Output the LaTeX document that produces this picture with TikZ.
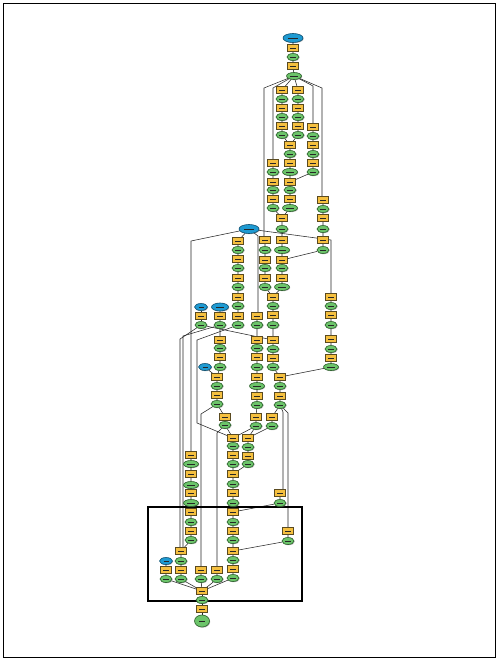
\documentclass[tikz,border=0pt]{standalone}
\usetikzlibrary{shapes.geometric,shadows}
\definecolor{yfill}{HTML}{F5C040}
\definecolor{ydraw}{HTML}{5A4A20}
\definecolor{gfill}{HTML}{6CC46A}
\definecolor{gdraw}{HTML}{2A5E2A}
\definecolor{bfill}{HTML}{1E9AD2}
\definecolor{bdraw}{HTML}{0E4F70}
\pgfdeclarelayer{back}
\pgfdeclarelayer{bg}
\pgfsetlayers{back,bg,main}
\tikzset{
  lbl/.style={path picture={\draw[line width=0.9pt,black!85]
     ([xshift=-#1]path picture bounding box.center) -- ([xshift=#1]path picture bounding box.center);}},
  base/.style={inner sep=0pt,line width=0.6pt,
     drop shadow={shadow xshift=0.7pt,shadow yshift=-0.7pt,opacity=0.45,fill=black!60}},
  yb/.style={base,rectangle,draw=ydraw,fill=yfill,minimum width=11pt,minimum height=7pt,lbl=3pt},
  gn/.style={base,ellipse,draw=gdraw,fill=gfill,minimum width=12pt,minimum height=7pt,lbl=2.8pt},
  gw/.style={gn,minimum width=15pt,lbl=4pt},
  bsm/.style={base,ellipse,draw=bdraw,fill=bfill,minimum width=13pt,minimum height=7pt,lbl=2.5pt},
  bmd/.style={bsm,minimum width=17pt,minimum height=8pt,lbl=4pt},
  bbig/.style={bsm,minimum width=20pt,minimum height=9pt,lbl=5pt},
  gbig/.style={gn,minimum width=15pt,minimum height=12pt,lbl=3pt},
  conn/.style={line width=0.55pt,black!85},
}
\begin{document}
\begin{tikzpicture}[x=1pt,y=-1pt]
\useasboundingbox (0,0) rectangle (498,660);
\begin{pgfonlayer}{back}
\fill[white] (0,0) rectangle (498,660);
\end{pgfonlayer}
\draw[line width=0.6pt] (3,3) rectangle (495,657);
\draw[line width=1.2pt] (148,507) rectangle (302,601);

% ---------- top cluster ----------
\node[bbig] (B1) at (293,38) {};
\node[yb] (Y1) at (293,48) {};
\node[gn] (G1) at (293,57) {};
\node[yb] (Y2) at (293,66) {};
\node[gw] (G2) at (294,76) {};
% column A
\node[yb] (YA1) at (282,90) {};
\node[gn] (GA1) at (282,99) {};
\node[yb] (YA2) at (282,108) {};
\node[gn] (GA2) at (282,117) {};
\node[yb] (YA3) at (282,126) {};
\node[gn] (GA3) at (282,135) {};
% column B
\node[yb] (YB1) at (298,90) {};
\node[gn] (GB1) at (298,99) {};
\node[yb] (YB2) at (298,108) {};
\node[gn] (GB2) at (298,117) {};
\node[yb] (YB3) at (298,126) {};
\node[gn] (GB3) at (298,135) {};
% column C
\node[yb] (YC1) at (313,127) {};
\node[gn] (GC1) at (313,136) {};
\node[yb] (YC2) at (313,145) {};
\node[gn] (GC2) at (313,154) {};
\node[yb] (YC3) at (313,163) {};
\node[gn] (GC3) at (313,172) {};
% column M
\node[yb] (YM1) at (290,145) {};
\node[gn] (GM1) at (290,154) {};
\node[yb] (YM2) at (290,163) {};
\node[gw] (GM2) at (290,172) {};
\node[yb] (YM3) at (290,182) {};
\node[gn] (GM3) at (290,190) {};
\node[yb] (YM4) at (290,199) {};
\node[gw] (GM4) at (290,208) {};
% column D
\node[yb] (YD1) at (273,163) {};
\node[gn] (GD1) at (273,172) {};
\node[yb] (YD2) at (273,182) {};
\node[gn] (GD2) at (273,190) {};
\node[yb] (YD3) at (273,199) {};
\node[gn] (GD3) at (273,208) {};
% column E
\node[yb] (YE1) at (282,218) {};
\node[gn] (GE1) at (282,229) {};
\node[yb] (YE2) at (282,240) {};
\node[gw] (GE2) at (282,250) {};
\node[yb] (YE3) at (282,260) {};
\node[gn] (GE3) at (282,268) {};
\node[yb] (YE4) at (282,278) {};
\node[gw] (GE4) at (282,287) {};
% column F
\node[yb] (YF1) at (323,200) {};
\node[gn] (GF1) at (323,209) {};
\node[yb] (YF2) at (323,218) {};
\node[gn] (GF2) at (323,229) {};
\node[yb] (YF3) at (323,240) {};
\node[gn] (GF3) at (323,250) {};
% column H
\node[yb] (YH1) at (265,240) {};
\node[gn] (GH1) at (265,250) {};
\node[yb] (YH2) at (265,260) {};
\node[gn] (GH2) at (265,268) {};
\node[yb] (YH3) at (265,278) {};
\node[gn] (GH3) at (265,287) {};
% column J
\node[yb] (YJ1) at (273,297) {};
\node[gn] (GJ1) at (273,306) {};
\node[yb] (YJ2) at (273,315) {};
\node[gn] (GJ2) at (273,325) {};

% ---------- middle cluster ----------
\node[bbig] (B2) at (249,229) {};
\node[yb] (YK1) at (238,241) {};
\node[gn] (GK1) at (238,250) {};
\node[yb] (YK2) at (238,259) {};
\node[gn] (GK2) at (238,268) {};
\node[yb] (YK3) at (238,278) {};
\node[gn] (GK3) at (238,287) {};
\node[yb] (YK4) at (238,297) {};
\node[gn] (GK4) at (238,306) {};
\node[yb] (YK5) at (238,316) {};
\node[gn] (GK5) at (238,325) {};
% column L
\node[yb] (YL1) at (257,316) {};
\node[gn] (GL1) at (257,325) {};
\node[yb] (YL2) at (257,340) {};
\node[gn] (GL2) at (257,348) {};
\node[yb] (YL3) at (257,357) {};
\node[gn] (GL3) at (257,367) {};
\node[yb] (YL4) at (257,377) {};
\node[gw] (GL4) at (257,386) {};
\node[yb] (YL5) at (257,396) {};
\node[gn] (GL5) at (257,405) {};
\node[yb] (YL6) at (256,417) {};
\node[gn] (GL6) at (256,426) {};
% column N
\node[yb] (YN1) at (331,297) {};
\node[gn] (GN1) at (331,306) {};
\node[yb] (YN2) at (331,315) {};
\node[gn] (GN2) at (331,325) {};
\node[yb] (YN3) at (331,339) {};
\node[gn] (GN3) at (331,349) {};
\node[yb] (YN4) at (331,358) {};
\node[gw] (GN4) at (331,367) {};
% column P / R / S
\node[yb] (YP1) at (273,340) {};
\node[gn] (GP1) at (273,349) {};
\node[yb] (YP2) at (273,358) {};
\node[gn] (GP2) at (273,367) {};
\node[yb] (YR1) at (280,377) {};
\node[gn] (GR1) at (280,386) {};
\node[yb] (YR2) at (280,396) {};
\node[gn] (GR2) at (280,405) {};
\node[yb] (YS1) at (272,417) {};
\node[gn] (GS1) at (272,426) {};
% columns T / U / V / W
\node[bsm] (B3) at (201,307) {};
\node[yb] (YT1) at (201,316) {};
\node[gn] (GT1) at (201,325) {};
\node[bmd] (B4) at (220,307) {};
\node[yb] (YU1) at (220,316) {};
\node[gn] (GU1) at (220,325) {};
\node[yb] (YU2) at (220,340) {};
\node[gn] (GU2) at (220,348) {};
\node[yb] (YU3) at (220,357) {};
\node[gn] (GU3) at (220,367) {};
\node[bsm] (B5) at (205,367) {};
\node[yb] (YV1) at (217,377) {};
\node[gn] (GV1) at (217,386) {};
\node[yb] (YV2) at (217,395) {};
\node[gn] (GV2) at (217,404) {};
\node[yb] (YW1) at (225,417) {};
\node[gn] (GW1) at (225,425) {};

% ---------- lower cluster ----------
\node[yb] (YX1) at (233,438) {};
\node[gn] (GX1) at (233,446) {};
\node[yb] (YX2) at (233,455) {};
\node[gn] (GX2) at (233,464) {};
\node[yb] (YX3) at (233,474) {};
\node[gn] (GX3) at (233,484) {};
\node[yb] (YX4) at (233,493) {};
\node[gn] (GX4) at (233,503) {};
\node[yb] (YX5) at (233,512) {};
\node[gn] (GX5) at (233,522) {};
\node[yb] (YX6) at (233,531) {};
\node[gn] (GX6) at (233,540) {};
\node[yb] (YX7) at (233,551) {};
\node[gn] (GX7) at (233,560) {};
\node[yb] (YX8) at (233,569) {};
\node[gn] (GX8) at (233,578) {};
\node[yb] (YY1) at (248,438) {};
\node[gn] (GY1) at (248,447) {};
\node[yb] (YY2) at (248,456) {};
\node[gn] (GY2) at (248,464) {};
\node[yb] (YZ1) at (280,493) {};
\node[gn] (GZ1) at (280,503) {};
\node[yb] (YZ2) at (288,531) {};
\node[gn] (GZ2) at (288,541) {};
\node[yb] (YQ1) at (191,455) {};
\node[gw] (GQ1) at (191,464) {};
\node[yb] (YQ2) at (191,474) {};
\node[gw] (GQ2) at (191,485) {};
\node[yb] (YQ3) at (191,493) {};
\node[gw] (GQ3) at (191,503) {};
\node[yb] (YQ4) at (191,512) {};
\node[gn] (GQ4) at (191,522) {};
\node[yb] (YQ5) at (191,531) {};
\node[gn] (GQ5) at (191,540) {};
\node[yb] (YO1) at (181,551) {};
\node[gn] (GO1) at (181,561) {};
\node[yb] (YO2) at (181,570) {};
\node[gn] (GO2) at (181,579) {};
\node[bsm] (B6) at (166,561) {};
\node[yb] (YI1) at (166,570) {};
\node[gn] (GI1) at (166,579) {};
\node[yb] (YT2) at (201,570) {};
\node[gn] (GT2) at (201,579) {};
\node[yb] (YW2) at (217,570) {};
\node[gn] (GW2) at (217,579) {};
\node[yb] (YF0) at (202,591) {};
\node[gn] (GF0) at (202,600) {};
\node[yb] (YF9) at (202,609) {};
\node[gbig] (GBig) at (202,621) {};

% bend points
\coordinate (kh) at (264,88);
\coordinate (kd) at (273,88);
\coordinate (kc) at (313,86);
\coordinate (kf) at (322,88);
\coordinate (kq) at (191,241);
\coordinate (kl) at (258,236);
\coordinate (kn) at (331,240);
\coordinate (k180) at (180,339);
\coordinate (k183) at (183,336);
\coordinate (k197a) at (197,340);
\coordinate (k197b) at (197,423);
\coordinate (k201) at (201,414);
\coordinate (k217) at (217,433);
\coordinate (k283) at (283,412);
\coordinate (k288) at (288,413);

\begin{pgfonlayer}{bg}
\draw[conn] (B1)--(Y1)--(G1)--(Y2)--(G2);
\draw[conn] (G2)--(YA1)--(GA1)--(YA2)--(GA2)--(YA3)--(GA3)--(YM1);
\draw[conn] (G2)--(YB1)--(GB1)--(YB2)--(GB2)--(YB3)--(GB3)--(YM1);
\draw[conn] (G2)--(kc)--(YC1)--(GC1)--(YC2)--(GC2)--(YC3)--(GC3)--(YM3);
\draw[conn] (G2)--(kf)--(YF1.north -| kf);
\draw[conn] (YF1)--(GF1)--(YF2)--(GF2)--(YF3)--(GF3)--(YE3);
\draw[conn] (G2)--(kd)--(YD1)--(GD1)--(YD2)--(GD2)--(YD3)--(GD3)--(YE1);
\draw[conn] (G2)--(kh)--(YH1.north -| kh);
\draw[conn] (YH1)--(GH1)--(YH2)--(GH2)--(YH3)--(GH3)--(YJ1);
\draw[conn] (YM1)--(GM1)--(YM2)--(GM2)--(YM3)--(GM3)--(YM4)--(GM4)--(YE1)
  --(GE1)--(YE2)--(GE2)--(YE3)--(GE3)--(YE4)--(GE4)--(YJ1)--(GJ1)--(YJ2)--(GJ2)
  --(YP1)--(GP1)--(YP2)--(GP2)--(YR1)--(GR1)--(YR2)--(GR2)--(YS1)--(GS1)--(YY1)
  --(GY1)--(YY2)--(GY2)--(YX3);
\draw[conn] (B2)--(YK1)--(GK1)--(YK2)--(GK2)--(YK3)--(GK3)--(YK4)--(GK4)--(YK5)--(GK5);
\draw[conn] (B2)--(kq)--(YQ1);
\draw[conn] (B2)--(kl)--(YL1.north -| kl);
\draw[conn] (B2)--(kn)--(YN1);
\draw[conn] (YN1)--(GN1)--(YN2)--(GN2)--(YN3)--(GN3)--(YN4)--(GN4)--(YR1);
\draw[conn] (YL1)--(GL1)--(YL2)--(GL2)--(YL3)--(GL3)--(YL4)--(GL4)--(YL5)--(GL5)--(YL6)--(GL6)--(YX1);
\draw[conn] (GL6)--(YY1);
\draw[conn] (B3)--(YT1)--(GT1);
\draw[conn] (B4)--(YU1)--(GU1)--(YU2)--(GU2)--(YU3)--(GU3)--(YV1)--(GV1)--(YV2)--(GV2)--(YW1)--(GW1)--(YX1);
\draw[conn] (B5)--(YV1);
\draw[conn] (GT1)--(YP1);
\draw[conn] (GT1)--(k180)--(YO1.north -| k180);
\draw[conn] (GU1)--(k183)--(YO1.north -| k183);
\draw[conn] (GK5)--(k197a)--(k197b)--(YX1);
\draw[conn] (GV2)--(k201)--(YT2.north -| k201);
\draw[conn] (GW1)--(k217)--(YW2);
\draw[conn] (GR2)--(k283)--(YZ1.north -| k283);
\draw[conn] (GR2)--(k288)--(YZ2);
\draw[conn] (YZ1)--(GZ1)--(YX5);
\draw[conn] (YZ2)--(GZ2)--(YX7);
\draw[conn] (YX1)--(GX1)--(YX2)--(GX2)--(YX3)--(GX3)--(YX4)--(GX4)--(YX5)--(GX5)
  --(YX6)--(GX6)--(YX7)--(GX7)--(YX8)--(GX8)--(YF0);
\draw[conn] (YQ1)--(GQ1)--(YQ2)--(GQ2)--(YQ3)--(GQ3)--(YQ4)--(GQ4)--(YQ5)--(GQ5)
  --(YO1)--(GO1)--(YO2)--(GO2)--(YF0);
\draw[conn] (B6)--(YI1)--(GI1)--(YF0);
\draw[conn] (YT2)--(GT2)--(YF0);
\draw[conn] (YW2)--(GW2)--(YF0);
\draw[conn] (YF0)--(GF0)--(YF9)--(GBig);
\end{pgfonlayer}
\end{tikzpicture}
\end{document}
